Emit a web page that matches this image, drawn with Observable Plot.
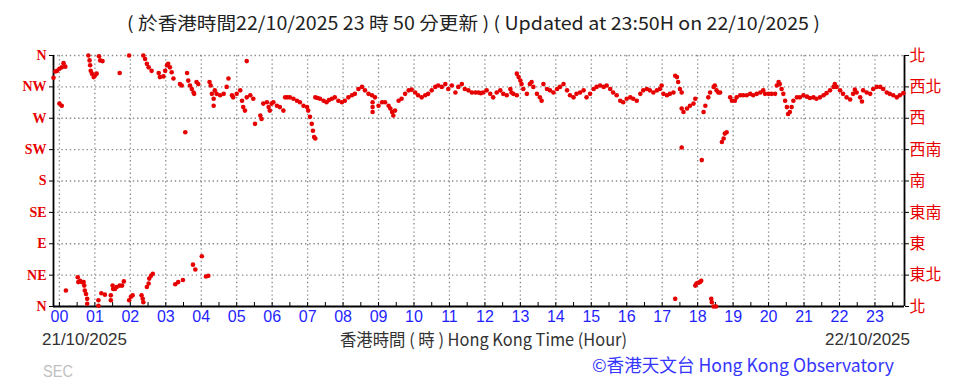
<!DOCTYPE html>
<html><head><meta charset="utf-8">
<script src="https://cdn.jsdelivr.net/npm/d3@7"></script>
<script src="https://cdn.jsdelivr.net/npm/@observablehq/plot@0.6"></script>
<style>
body{margin:0;background:#fff;}
#chart{position:relative;width:964px;height:381px;overflow:hidden;}
</style>
</head><body><div id="chart"></div>
<script>
// Hours 00..23 (x, in minutes since 00:00 HKT on 22/10/2025)
const hourLabels = ["00","01","02","03","04","05","06","07","08","09","10","11","12","13","14","15","16","17","18","19","20","21","22","23"];
const hourTicks = hourLabels.map(h => +h * 60);
const halfHourTicks = d3.range(0, 1440, 30);
// Wind direction ticks (degrees)
const dirTicks = [0, 45, 90, 135, 180, 225, 270, 315, 360];
const dirLeft = ["N","NE","E","SE","S","SW","W","NW","N"];
const dirRight = ["北","東北","東","東南","南","西南","西","西北","北"];

// [minute, direction in degrees]
const block00to02 = [[-10,328],[-7,337],[-4,338],[0,341],[4,343],[7,349],[10,344],[0,291],[4,288],[11,23],[31,42],[32,35],[35,37],[38,35],[41,35],[42,30],[43,23],[45,18],[47,11],[47,4],[49,360],[51,353],[52,346],[53,338],[55,334],[58,329],[60,331],[63,334],[66,9],[66,1],[67,359],[69,353],[71,19],[73,352],[77,17],[87,16],[87,9],[90,30],[91,25],[94,25],[97,28],[102,30],[102,335],[106,30],[109,36],[118,9],[118,360],[121,14],[124,16]];
const block02to04 = [[139,16],[141,11],[142,6],[142,360],[145,355],[148,348],[148,28],[151,343],[151,33],[152,40],[155,44],[156,338],[158,47],[168,335],[170,329],[176,330],[179,338],[182,346],[184,348],[187,343],[190,336],[193,327],[196,32],[201,35],[204,319],[207,317],[209,38],[213,250],[216,335],[218,324],[221,317],[224,312],[226,60],[227,307],[228,305],[230,53],[232,322],[235,319]];
const block04to07 = [[241,72],[248,43],[252,44],[254,322],[256,317],[258,305],[261,298],[261,288],[263,310],[266,305],[272,303],[278,305],[283,315],[286,327],[292,303],[294,300],[300,305],[306,310],[309,295],[311,286],[314,281],[317,352],[317,300],[323,303],[328,298],[331,262],[340,274],[342,269],[345,291],[351,293],[354,286],[356,281],[359,291],[362,293],[368,288],[373,286],[379,281],[382,300],[386,300],[390,300],[396,298],[402,295],[407,293],[413,288],[419,286],[421,281],[424,272],[427,262],[429,252],[431,243],[433,241]];
const block07to12 = [[433,300],[437,299],[441,298],[447,295],[452,293],[456,296],[461,298],[466,300],[472,295],[478,293],[483,295],[489,300],[495,303],[500,305],[506,312],[512,315],[517,310],[523,305],[529,303],[530,293],[530,286],[530,279],[534,300],[540,288],[546,293],[551,293],[557,288],[560,284],[563,279],[565,274],[568,281],[574,295],[579,298],[585,305],[591,310],[596,311],[602,307],[607,303],[613,300],[619,303],[624,305],[630,310],[636,315],[641,317],[647,315],[653,319],[658,312],[664,317],[670,307],[675,315],[681,319],[686,312],[692,310],[698,307],[704,307],[709,307],[713,306],[717,307],[723,310]];
const block12to17 = [[729,305],[734,300],[740,307],[746,310],[751,305],[757,303],[763,312],[765,307],[768,305],[774,303],[774,334],[777,329],[780,324],[782,319],[785,312],[791,305],[796,319],[799,322],[802,315],[808,305],[813,300],[816,295],[819,319],[825,312],[830,310],[836,307],[842,312],[847,315],[853,319],[859,310],[864,303],[870,300],[875,305],[881,307],[887,310],[892,300],[898,305],[904,312],[909,315],[915,317],[921,315],[926,317],[932,312],[937,307],[943,303],[949,295],[954,293],[960,298],[966,300],[971,298],[977,295],[983,305],[988,310],[994,312],[999,310],[1005,307],[1011,310],[1016,312],[1019,317]];
const block17to19 = [[1022,305],[1028,303],[1033,305],[1039,307],[1042,331],[1042,11],[1045,329],[1047,322],[1050,312],[1053,307],[1053,284],[1053,228],[1056,279],[1062,284],[1067,288],[1073,291],[1076,298],[1076,30],[1078,33],[1081,34],[1084,35],[1086,37],[1087,210],[1090,279],[1093,288],[1098,300],[1101,307],[1103,11],[1104,6],[1107,315],[1107,0],[1109,317],[1111,0],[1112,310],[1115,307],[1118,307],[1121,236],[1124,241],[1126,248],[1129,250]];
const block19to24 = [[1135,300],[1138,295],[1143,295],[1146,300],[1152,303],[1157,303],[1163,303],[1169,305],[1174,303],[1180,305],[1186,307],[1191,310],[1194,305],[1200,305],[1205,305],[1211,305],[1214,317],[1217,322],[1219,319],[1222,312],[1225,305],[1228,295],[1231,286],[1233,276],[1236,279],[1239,286],[1242,295],[1248,300],[1253,300],[1259,303],[1265,301],[1270,299],[1276,300],[1281,298],[1287,300],[1293,303],[1298,306],[1304,310],[1310,315],[1312,319],[1315,315],[1321,310],[1326,305],[1332,300],[1338,297],[1343,305],[1346,311],[1349,307],[1355,300],[1358,294],[1360,310],[1366,307],[1372,305],[1377,312],[1383,315],[1389,315],[1394,312],[1400,307],[1405,305],[1411,303],[1417,300],[1422,303],[1428,306]];

const obs = [...block00to02, ...block02to04, ...block04to07, ...block07to12, ...block12to17, ...block17to19, ...block19to24]
  .map(([m, d]) => ({m, d}));

const gridStyle = {stroke: "#8a8a8a", strokeOpacity: 1, strokeWidth: 1.3, strokeDasharray: "1.4,2.8"};

const svg = Plot.plot({
  width: 964, height: 381,
  marginTop: 55, marginBottom: 75, marginLeft: 53, marginRight: 60,
  style: {fontFamily: "Liberation Sans", background: "white", overflow: "visible"},
  x: {domain: [-10, 1430]},
  y: {domain: [0, 360]},
  marks: [
    Plot.gridX(hourTicks, gridStyle),
    Plot.gridY(dirTicks.slice(1, 9), gridStyle),
    Plot.axisX(halfHourTicks, {anchor: "bottom", tickSize: -4, fill: "none", stroke: "#000", label: null}),
    Plot.axisX(hourTicks, {anchor: "bottom", tickSize: 0, tickPadding: 4, fill: "#1f1fff", fontSize: 16,
      tickFormat: d => hourLabels[hourTicks.indexOf(d)], label: null}),
    Plot.axisY(dirTicks, {anchor: "left", tickSize: 4, tickPadding: 3, fill: "#e60000", stroke: "#000",
      fontFamily: "Liberation Serif", fontSize: 14, fontWeight: "bold", tickFormat: d => dirLeft[dirTicks.indexOf(d)], label: null}),
    Plot.axisY(dirTicks, {anchor: "right", tickSize: 4, tickPadding: 1, fill: "#e60000", stroke: "#000",
      fontFamily: "Noto Sans CJK TC", fontSize: 16, tickFormat: d => dirRight[dirTicks.indexOf(d)], label: null}),
    Plot.ruleX([-10, 1430], {stroke: "#000", strokeWidth: 1.8}),
    Plot.ruleY([0], {stroke: "#000", strokeWidth: 1.8}),
    Plot.dot(obs, {x: "m", y: "d", r: 2.3, fill: "#e60000", stroke: "none"})
  ]
});
document.getElementById("chart").appendChild(svg);

const s = d3.select(svg);
function addText(str, x, y, opts) {
  const t = s.append("text").attr("x", x).attr("y", y).text(str)
    .attr("text-anchor", "start")
    .attr("font-family", opts.family || "Liberation Sans, Noto Sans CJK TC")
    .attr("font-size", opts.size).attr("fill", opts.fill);
  if (opts.len) t.attr("textLength", opts.len).attr("lengthAdjust", "spacingAndGlyphs");
  return t;
}
addText("( 於香港時間22/10/2025 23 時 50 分更新 ) ( Updated at 23:50H on 22/10/2025 )", 127, 30,
  {size: 18, fill: "#222", len: 693, family: "Noto Sans CJK TC"});
addText("21/10/2025", 42, 345, {size: 17, fill: "#333", len: 85});
addText("香港時間 ( 時 ) Hong Kong Time (Hour)", 340, 346, {size: 17, fill: "#333", len: 287, family: "Noto Sans CJK TC"});
addText("22/10/2025", 825, 345, {size: 17, fill: "#333", len: 85});
addText("©香港天文台 Hong Kong Observatory", 592, 372, {size: 18, fill: "#3535ff", len: 302, family: "Noto Sans CJK TC"});
addText("SEC", 43, 377, {size: 17, fill: "#c0c0c0", len: 30});
</script>
</body></html>
